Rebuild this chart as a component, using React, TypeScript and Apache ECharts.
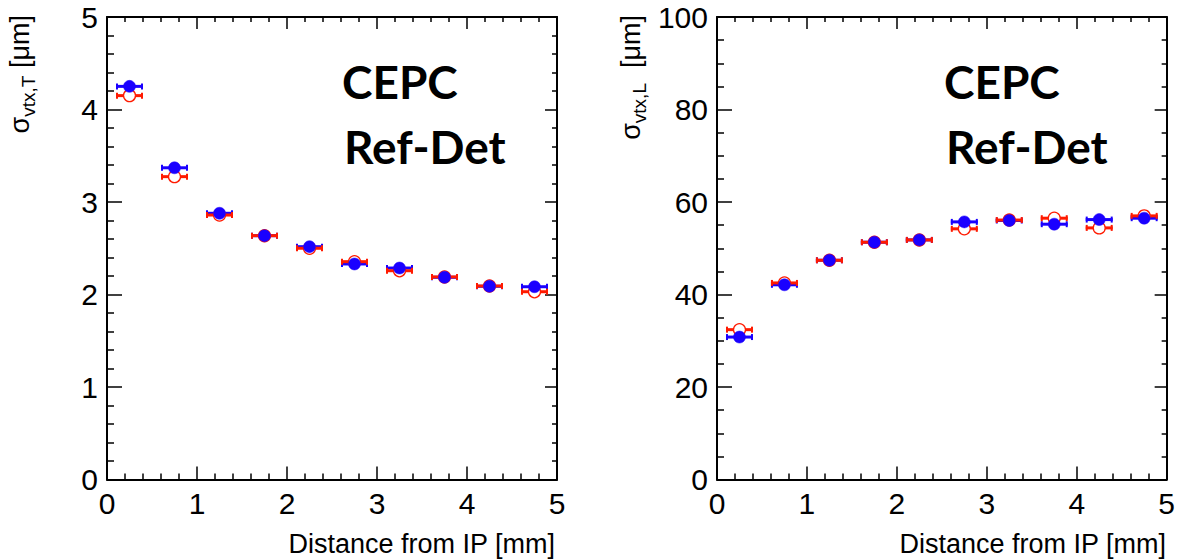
import React, { useEffect, useRef } from 'react';
import * as echarts from 'echarts';

const distance = [0.25, 0.75, 1.25, 1.75, 2.25, 2.75, 3.25, 3.75, 4.25, 4.75];
const sigmaTBlue = [4.25, 3.37, 2.878, 2.636, 2.517, 2.33, 2.286, 2.186, 2.089, 2.084];
const sigmaTRed = [4.15, 3.274, 2.859, 2.636, 2.5, 2.355, 2.257, 2.19, 2.092, 2.03];
const sigmaLBlue = [30.8, 42.1, 47.4, 51.3, 51.8, 55.7, 56.0, 55.2, 56.2, 56.5];
const sigmaLRed = [32.4, 42.5, 47.4, 51.3, 51.8, 54.2, 56.1, 56.5, 54.4, 57.0];
const XERR = 0.15;

const BLUE = '#1a00ff';
const RED = '#ff1a00';
const FONT = 'Liberation Sans, Arial, sans-serif';

function errorBars(data: number[], idx: number, color: string) {
  return {
    type: 'custom',
    xAxisIndex: idx * 2,
    yAxisIndex: idx * 2,
    silent: true,
    data: data.map((y, i) => [distance[i], y]),
    renderItem: (params: any, api: any) => {
      const x = api.value(0);
      const y = api.value(1);
      const a = api.coord([x - XERR, y]);
      const b = api.coord([x + XERR, y]);
      const style = { stroke: color, lineWidth: 3 };
      return {
        type: 'group',
        children: [
          { type: 'line', shape: { x1: a[0], y1: a[1], x2: b[0], y2: b[1] }, style },
          { type: 'line', shape: { x1: a[0] + 1, y1: a[1] - 3, x2: a[0] + 1, y2: a[1] + 3 }, style: { stroke: color, lineWidth: 2 } },
          { type: 'line', shape: { x1: b[0] - 1, y1: b[1] - 3, x2: b[0] - 1, y2: b[1] + 3 }, style: { stroke: color, lineWidth: 2 } },
        ],
      };
    },
  };
}

function markers(data: number[], idx: number, filled: boolean, color: string) {
  return {
    type: 'scatter',
    xAxisIndex: idx * 2,
    yAxisIndex: idx * 2,
    silent: true,
    symbol: 'circle',
    symbolSize: 12,
    data: data.map((y, i) => [distance[i], y]),
    itemStyle: filled
      ? { color: color, borderColor: color, borderWidth: 0.5, opacity: 1 }
      : { color: '#ffffff', borderColor: color, borderWidth: 1.3, opacity: 1 },
  };
}

const tickStyle = { color: '#000', width: 1.5 };

function xAxes(gridIndex: number) {
  const base = {
    type: 'value', gridIndex, min: 0, max: 5, interval: 1,
    splitLine: { show: false },
    axisLine: { show: true, onZero: false, lineStyle: { color: '#000', width: 2 } },
  };
  return [
    {
      ...base, position: 'bottom',
      axisTick: { show: true, inside: true, length: 13, lineStyle: tickStyle },
      minorTick: { show: true, splitNumber: 5, length: 6, lineStyle: tickStyle },
      axisLabel: { show: true, fontSize: 30, fontFamily: FONT, color: '#000', margin: 9 },
    },
    {
      ...base, position: 'top',
      axisTick: { show: true, inside: true, length: 12, lineStyle: tickStyle },
      minorTick: { show: true, splitNumber: 5, length: 5, lineStyle: tickStyle },
      axisLabel: { show: false },
    },
  ];
}

function yAxes(gridIndex: number, max: number, interval: number, minorSplit: number) {
  const base = {
    type: 'value', gridIndex, min: 0, max, interval,
    splitLine: { show: false },
    axisLine: { show: true, onZero: false, lineStyle: { color: '#000', width: 2 } },
  };
  return [
    {
      ...base, position: 'left',
      axisTick: { show: true, inside: true, length: 15, lineStyle: tickStyle },
      minorTick: { show: true, splitNumber: minorSplit, length: 7, lineStyle: tickStyle },
      axisLabel: { show: true, fontSize: 30, fontFamily: FONT, color: '#000', margin: 9 },
    },
    {
      ...base, position: 'right',
      axisTick: { show: true, inside: true, length: 12, lineStyle: tickStyle },
      minorTick: { show: true, splitNumber: minorSplit, length: 5, lineStyle: tickStyle },
      axisLabel: { show: false },
    },
  ];
}

function yTitle(x: number, sub: string, gap: string) {
  return {
    type: 'text',
    x,
    y: 15,
    rotation: Math.PI / 2,
    style: {
      text: '{s|σ}{sub|' + sub + '}{s|' + gap + '[μm]}',
      align: 'right',
      verticalAlign: 'middle',
      fill: '#000',
      rich: {
        s: { fontSize: 27, fontFamily: FONT, fill: '#000', verticalAlign: 'top', lineHeight: 32 },
        sub: { fontSize: 19, fontFamily: FONT, fill: '#000', verticalAlign: 'bottom', lineHeight: 32, padding: [12, 0, 0, 0] },
      },
    },
  };
}

function label(x: number, y: number, text: string) {
  return {
    type: 'text', x, y,
    style: { text, fontSize: 46, fontWeight: 'bold', fontFamily: 'Lato, sans-serif', fill: '#000', align: 'left', verticalAlign: 'middle' },
  };
}

function xTitle(x: number) {
  return {
    type: 'text', x, y: 544,
    style: { text: 'Distance from IP [mm]', fontSize: 27, fontFamily: FONT, fill: '#000', align: 'right', verticalAlign: 'middle' },
  };
}

export default function App() {
  const ref = useRef<HTMLDivElement>(null);
  useEffect(() => {
    if (!ref.current) return;
    const chart = echarts.init(ref.current, undefined, { renderer: 'svg' });
    chart.setOption({
      animation: false,
      backgroundColor: '#ffffff',
      grid: [
        { left: 107, top: 17, width: 450, height: 462.5 },
        { left: 717, top: 17, width: 450, height: 462.5 },
      ],
      xAxis: [...xAxes(0), ...xAxes(1)],
      yAxis: [...yAxes(0, 5, 1, 5), ...yAxes(1, 100, 20, 4)],
      series: [
        errorBars(sigmaTBlue, 0, BLUE),
        errorBars(sigmaTRed, 0, RED),
        markers(sigmaTRed, 0, false, RED),
        markers(sigmaTBlue, 0, true, BLUE),
        errorBars(sigmaLBlue, 1, BLUE),
        errorBars(sigmaLRed, 1, RED),
        markers(sigmaLRed, 1, false, RED),
        markers(sigmaLBlue, 1, true, BLUE),
      ],
      graphic: [
        yTitle(22, 'vtx,T', ' '),
        yTitle(633, 'vtx,L', '  '),
        label(342, 81, 'CEPC'),
        label(344, 146, 'Ref-Det'),
        label(944, 81, 'CEPC'),
        label(946, 146, 'Ref-Det'),
        xTitle(555),
        xTitle(1166),
      ],
    });
    return () => chart.dispose();
  }, []);
  return (
    <div
      ref={ref}
      style={{ position: 'fixed', left: 0, top: 0, width: 1178, height: 560, background: '#fff' }}
    />
  );
}
